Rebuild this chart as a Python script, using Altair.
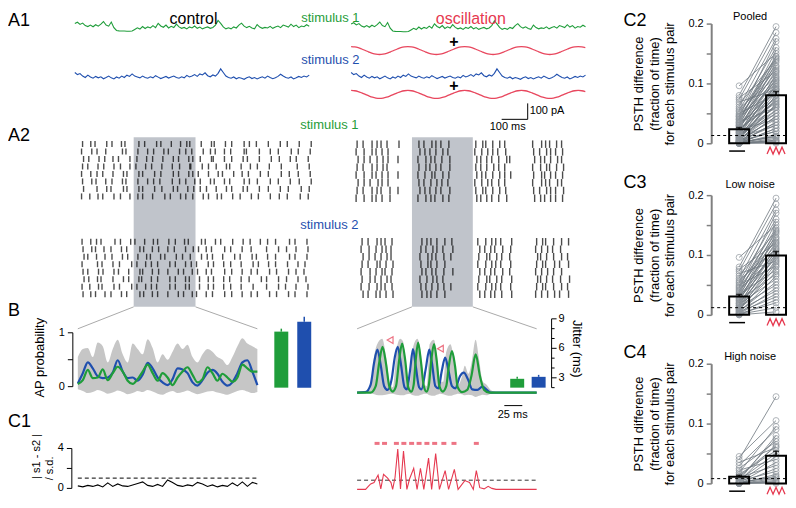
import altair as alt
import pandas as pd

FONT = "Liberation Sans"
GREEN = "#1f9d3a"
BLUE = "#1f4fae"
RED = "#e63950"
SINE = "#e8475e"
GREY_BAND = "#c0c4cb"
GREY_PSTH = "#c6c6c6"

# ---------------- A1: injected currents (pA above baseline, 10 ms steps) ----------------
STIM1 = [45, 52, 40, 47, 33, 28, 36, 27, 38, 30, 41, 56, 36, 30, 53, 22, 6, 4, 3, 3,
         2, 2, 3, 12, 21, 14, 28, 17, 26, 20, 33, 22, 46, 31, 24, 36, 20, 29, 22, 41,
         26, 18, 23, 15, 26, 20, 31, 18, 25, 15, 21, 26, 18, 23, 36, 62, 46, 26, 15, 21,
         15, 26, 20, 36, 47, 30, 22, 29, 20, 15, 39, 25, 18, 23, 20, 29, 18, 26, 31, 22,
         36, 31, 25, 41, 28, 36, 22, 31, 27, 38, 30]
STIM2 = [50, 38, 44, 30, 22, 35, 25, 18, 28, 20, 26, 15, 22, 30, 20, 14, 25, 18, 30, 22,
         35, 28, 42, 30, 25, 20, 30, 22, 18, 26, 20, 32, 24, 16, 22, 28, 19, 25, 30, 22,
         18, 26, 20, 34, 25, 30, 38, 28, 42, 36, 48, 32, 26, 36, 30, 45, 70, 50, 30, 22,
         18, 25, 15, 22, 18, 12, 20, 26, 16, 22, 14, 20, 26, 18, 30, 22, 15, 20, 28, 40,
         30, 22, 18, 25, 14, 20, 28, 22, 30, 25, 35]
STIM_DT = 10
OSC_CYCLE = [1.0, 0.92, 0.71, 0.38, 0.0, -0.38, -0.71, -0.92, -1.0, -0.92, -0.71, -0.38, 0.0, 0.38, 0.71, 0.92]
OSC_PERIOD = 218
SCALEBAR_T = [578, 678]
SCALEBAR_PA = [0, 100]

# ---------------- A2: rasters (column times in ms, per-trial jitter codes) ----------------
CTRL_S1_COLS = [3, 32, 61, 92, 125, 159, 185, 225, 256, 292, 325, 359, 392, 425, 445, 479, 512, 539,
                572, 605, 643, 672, 712, 752, 792, 832, 872, 912]
CTRL_S2_COLS = [5, 32, 59, 85, 125, 159, 192, 225, 252, 279, 312, 345, 379, 412, 439, 472, 499, 532,
                565, 605, 639, 679, 712, 745, 785, 825, 859, 899]
CTRL_S1_JIT = ["3415230425134203514253024135", "2534.41352403125423150342524",
               "4253305241352432503241353402", "3142425130243514235024135.13",
               "2431352403152430251432425324", "3524241352043152413053142435",
               "4.35152403251342035241324253", "2341425301524135240315243142"]
CTRL_S2_JIT = ["2431524035142305241352431524", "3524130524231452305143.24235",
               "4135241352403125413524031524", "2.42315243152430524135241352",
               "3153402514235241305243152431", "4241352403152413524031524253",
               "2352415243052413524135.24135", "3425130524135240315243152424"]
OSC_S1_COLS = [32, 60, 88, 112, 132, 160, 196, 280, 304, 328, 348, 372, 400,
               508, 532, 552, 576, 600, 628, 648, 740, 768, 788, 808, 832, 856, 872]
OSC_S2_COLS = [52, 80, 108, 128, 148, 172, 288, 312, 332, 352, 380, 412,
               520, 548, 568, 588, 612, 648, 752, 772, 792, 820, 848, 880]
OSC_S1_JIT = ["3243214 324323 342342. 243232.", "234232. 432342 234323. 324323.",
              "4323423 243234 4232342 432342.", "324341. 342324 323432. 234234.",
              "2342323 234243 4323423 342323.", "432432. 323432 234232. 243242.",
              "3243243 432324 342343. 324324.", "234234. 243243 423234. 432323."]
OSC_S2_JIT = ["324323 432343 234324 342343", "233432 324324 423243 23423.",
              "432342 243232 342432 423342", "324234 34234. 234323 342423",
              "243423 423234 423242 23434.", "342342 23432. 342434 423234",
              "234323 323432 234323 342342", "423234 43234. 423234 234423"]
CTRL_WINDOW = [208, 456]
OSC_WINDOW = [252, 496]

# ---------------- B: PSTHs (AP probability) and spike jitter ----------------
B_CTRL_GREEN = [0.05, 0.12, 0.31, 0.16, 0.17, 0.32, 0.12, 0.25, 0.37, 0.28, 0.11, 0.05, 0.14, 0.28, 0.41,
                0.25, 0.11, 0.25, 0.17, 0.03, 0.17, 0.28, 0.36, 0.22, 0.08, 0.14, 0.36, 0.25, 0.11, 0.24,
                0.17, 0.09, 0.17, 0.41, 0.34, 0.28, 0.28]
B_CTRL_BLUE = [0.06, 0.25, 0.45, 0.34, 0.19, 0.16, 0.17, 0.26, 0.49, 0.28, 0.16, 0.17, 0.11, 0.22, 0.44,
               0.34, 0.17, 0.08, 0.03, 0.14, 0.34, 0.32, 0.25, 0.08, 0.02, 0.12, 0.26, 0.31, 0.24, 0.09,
               0.02, 0.08, 0.25, 0.45, 0.49, 0.28, 0.03]
B_CTRL_HI = [0.55, 0.70, 0.72, 0.55, 0.82, 0.75, 0.45, 0.70, 0.87, 0.60, 0.45, 0.80, 0.70, 0.60, 0.88,
             0.72, 0.45, 0.60, 0.50, 0.65, 0.80, 0.70, 0.78, 0.55, 0.45, 0.60, 0.70, 0.65, 0.55, 0.50,
             0.40, 0.55, 0.75, 0.90, 0.80, 0.75, 0.70]
B_CTRL_LO = [-0.05, -0.08, -0.12, -0.10, -0.06, -0.09, -0.13, -0.11, -0.07, -0.10, -0.14, -0.12, -0.08,
             -0.10, -0.06, -0.09, -0.13, -0.15, -0.11, -0.08, -0.12, -0.10, -0.07, -0.11, -0.14, -0.12,
             -0.09, -0.08, -0.11, -0.13, -0.15, -0.12, -0.08, -0.06, -0.09, -0.12, -0.10]
B_WIN_MS = 250
OSC_GREEN_T = [0, 18.9, 25.9, 30.7, 35.4, 40.1, 44.8, 49.5, 54.2, 58.5, 62.7, 67.0, 71.2, 75.5, 78.8,
               81.6, 84.9, 88.7, 92.9, 96.7, 100.0, 103.3, 107.1, 110.8, 114.6, 119.3, 124.1, 127.8,
               132.1, 136.3, 140.1, 146.2, 153.3, 159.0, 165.1, 171.2, 176.9, 184.0, 250]
OSC_GREEN_V = [0, 0, 0.12, 0.55, 0.85, 0.55, 0.12, 0.02, 0.12, 0.6, 0.91, 0.6, 0.1, 0.02, 0.15, 0.6,
               0.93, 0.6, 0.12, 0.02, 0.15, 0.6, 0.9, 0.6, 0.12, 0.02, 0.12, 0.5, 0.77, 0.5, 0.1, 0.01,
               0.05, 0.3, 0.71, 0.3, 0.05, 0, 0]
OSC_BLUE_T = [0, 11.8, 18.9, 23.6, 28.3, 33.0, 37.7, 42.5, 48.1, 52.4, 56.6, 60.8, 66.0, 69.3, 73.6,
              77.8, 81.6, 86.3, 89.6, 95.7, 100.5, 104.2, 109.0, 113.2, 117.9, 122.6, 127.4, 132.1,
              136.8, 143.0, 148.6, 154.3, 160.4, 167.5, 174.5, 180.7, 186.3, 250]
OSC_BLUE_V = [0, 0.01, 0.15, 0.55, 0.8, 0.5, 0.12, 0.05, 0.25, 0.65, 0.85, 0.55, 0.1, 0.06, 0.4, 0.81,
              0.5, 0.1, 0.06, 0.45, 0.8, 0.55, 0.12, 0.08, 0.4, 0.65, 0.4, 0.12, 0.08, 0.3, 0.37, 0.25,
              0.06, 0.05, 0.11, 0.05, 0.0, 0]
OSC_GRAY_T = [0, 18, 24, 30, 35, 40, 46, 50, 55, 60, 64, 69, 73, 78, 84, 89, 94, 97, 101, 107, 111,
              116, 120, 124, 130, 135, 141, 146, 150, 155, 160, 165, 170, 175, 180, 186, 195, 250]
OSC_GRAY_LO = [0, 0, -0.03, -0.05, -0.05, -0.04, -0.02, -0.02, -0.04, -0.05, -0.05, -0.03, -0.02,
               -0.05, -0.06, -0.04, -0.02, -0.02, -0.05, -0.06, -0.04, -0.02, -0.03, -0.05, -0.06,
               -0.04, -0.02, -0.03, -0.05, -0.04, -0.05, -0.08, -0.06, -0.04, -0.05, -0.02, 0, 0]
OSC_GRAY_HI = [0.02, 0.05, 0.7, 0.95, 1.0, 0.7, 0.15, 0.1, 0.8, 1.0, 0.95, 0.3, 0.15, 0.85, 1.0, 0.7,
               0.15, 0.12, 0.9, 0.98, 0.7, 0.2, 0.2, 0.75, 0.9, 0.6, 0.15, 0.3, 0.5, 0.35, 0.6, 0.98,
               0.6, 0.2, 0.15, 0.05, 0.01, 0]
ARROW_T = [48, 118]
ARROW_V = [0.96, 0.8]
JIT_CTRL_MEAN = [7.7, 8.7]
JIT_CTRL_ERR = [0.3, 0.5]
JIT_OSC_MEAN = [2.9, 3.1]
JIT_OSC_ERR = [0.2, 0.2]
JIT_BASE = 2
BAR_COLORS = [GREEN, BLUE]
SCALEBAR_B = [205, 230]

# ---------------- C1: |s1 - s2| / s.d. ----------------
C1_CTRL = [0.25, 0.15, 0.3, 0.2, 0.35, 0.15, 0.55, 0.2, 0.45, 0.25, 0.2, 0.35, 0.5, 0.65, 0.3, 0.2,
           0.4, 0.2, 0.85, 0.6, 0.3, 0.2, 0.35, 0.25, 0.6, 0.45, 0.2, 0.35, 0.15, 0.3, 0.2, 0.55,
           0.25, 0.65, 0.2, 0.6, 0.45]
C1_OSC_T = [0, 11.8, 15.6, 18.9, 23.6, 29.2, 33.0, 36.8, 42.5, 47.2, 49.5, 52.8, 56.6, 60.4, 64.6,
            69.3, 73.1, 78.8, 83.5, 88.2, 92.9, 99.5, 103.8, 109.4, 114.6, 122.6, 127.4, 135.4, 140.6,
            143.9, 150.0, 156.6, 161.8, 166.0, 170.8, 176.9, 182.5, 187.7, 193.4, 250]
C1_OSC_V = [0, 0, 0.3, 0.54, 0.67, 1.4, 0.05, 1.48, 1.1, 0.67, 0.0, 1.16, 3.95, 0.05, 3.75, 0.0,
            1.04, 2.07, 0.0, 2.07, 0.0, 3.06, 0.0, 3.5, 0.0, 1.83, 0.0, 1.95, 0.0, 0.3, 0.86, 0.67,
            0.0, 1.83, 0.17, 0.05, 0.3, 0.1, 0.0, 0.0]
C1_SIG_T = [27.8, 38.2, 54.7, 65.1, 75.9, 86.3, 97.2, 108.0, 120.8, 134.9, 166.0]
C1_SIG_LEVEL = 4.5
C1_THR_CTRL = 1.03
C1_THR_OSC = 0.9

# ---------------- C2-C4: PSTH difference per stimulus pair ----------------
C3_CTRL = [0.096, 0.080, 0.076, 0.073, 0.069, 0.065, 0.061, 0.058, 0.055, 0.053, 0.050, 0.048,
           0.046, 0.044, 0.042, 0.040, 0.038, 0.036, 0.034, 0.033, 0.031, 0.030, 0.028, 0.027,
           0.025, 0.024, 0.022, 0.020, 0.019, 0.018, 0.016, 0.015, 0.013, 0.012, 0.011, 0.010,
           0.009, 0.008, 0.007, 0.006, 0.005, 0.004, 0.003, 0.002, 0.002, 0.001, 0.000, 0.000]
C3_OSC = [0.150, 0.195, 0.120, 0.185, 0.090, 0.140, 0.175, 0.110, 0.160, 0.130, 0.082, 0.145,
          0.125, 0.170, 0.100, 0.138, 0.118, 0.155, 0.075, 0.128, 0.105, 0.142, 0.095, 0.122,
          0.112, 0.068, 0.135, 0.088, 0.108, 0.060, 0.115, 0.098, 0.050, 0.102, 0.085, 0.072,
          0.092, 0.040, 0.080, 0.055, 0.030, 0.065, 0.045, 0.020, 0.035, 0.012, 0.025, 0.005]
C4_CTRL = [0.045, 0.040, 0.035, 0.030, 0.025, 0.022, 0.018, 0.015, 0.012, 0.010, 0.008, 0.006,
           0.005, 0.004, 0.003, 0.002, 0.002, 0.001, 0.001, 0.000, 0.000, 0.000, 0.000, 0.000,
           0.000, 0.000]
C4_OSC = [0.105, 0.145, 0.060, 0.090, 0.070, 0.040, 0.095, 0.055, 0.062, 0.030, 0.075, 0.050,
          0.080, 0.020, 0.065, 0.045, 0.010, 0.035, 0.012, 0.025, 0.008, 0.015, 0.003, 0.005,
          0.002, 0.000]
THRESH = {"C2": 0.013, "C3": 0.012, "C4": 0.008}
Y_TICKS_C = [0, 0.05, 0.1, 0.15, 0.2]
DASH_X = [-0.27, 0.16]
ZIG_X = [0.757, 0.838, 0.919, 1.0, 1.081, 1.162, 1.243]
ZIG_Y = [-0.018, -0.0065, -0.018, -0.0065, -0.018, -0.0065, -0.018]

# ======================= layout helpers =======================
OX, OY = 8, 8
ONE = pd.DataFrame({"k": [0]})


def XS(dom, a, b):
    return alt.Scale(domain=dom, range=[a - OX, b - OX], nice=False, zero=False, padding=0)


def YS(dom, r0, r1):
    return alt.Scale(domain=dom, range=[r0 - OY, r1 - OY], nice=False, zero=False, padding=0)


def txt(s, x, y, size=11, color="black", align="center", baseline="middle", angle=0, weight="normal"):
    return alt.Chart(ONE).mark_text(text=s, fontSize=size, color=color, align=align, baseline=baseline,
                                    angle=angle, fontWeight=weight, font=FONT).encode(
        x=alt.value(x - OX), y=alt.value(y - OY))


def line(t, v, xsc, ysc, color, width=1.1, interp="linear", dash=None):
    df = pd.DataFrame({"t": t, "v": v})
    kw = dict(color=color, strokeWidth=width, interpolate=interp)
    if dash:
        kw["strokeDash"] = dash
    return alt.Chart(df).mark_line(**kw).encode(
        x=alt.X("t:Q", scale=xsc, axis=None), y=alt.Y("v:Q", scale=ysc, axis=None))


L = []

# ---------- A1 ----------
t_stim = [i * STIM_DT for i in range(len(STIM1))]
XA_C = XS([0, 900], 75, 310)
XA_O = XS([0, 900], 352, 587)
L.append(line(t_stim, STIM1, XA_C, YS([0, 100], 31, 13), GREEN))
L.append(line(t_stim, STIM2, XA_C, YS([0, 100], 81, 63), BLUE))
L.append(line(t_stim, STIM1, XA_O, YS([0, 100], 31.5, 13.5), GREEN))
L.append(line(t_stim, STIM2, XA_O, YS([0, 100], 81, 63), BLUE))
sine_v = (OSC_CYCLE * 5)[:67]
sine_t = [i * OSC_PERIOD / len(OSC_CYCLE) for i in range(len(sine_v))]
L.append(line(sine_t, sine_v, XA_O, YS([-1, 1], 54, 46), SINE, 1.3, "monotone"))
L.append(line(sine_t, sine_v, XA_O, YS([-1, 1], 98, 90), SINE, 1.3, "monotone"))
sb = pd.DataFrame({"t0": [SCALEBAR_T[0], SCALEBAR_T[1]], "t1": [SCALEBAR_T[1], SCALEBAR_T[1]],
                   "p0": [SCALEBAR_PA[0], SCALEBAR_PA[0]], "p1": [SCALEBAR_PA[0], SCALEBAR_PA[1]]})
L.append(alt.Chart(sb).mark_rule(color="black", strokeWidth=1).encode(
    x=alt.X("t0:Q", scale=XA_O, axis=None), x2="t1:Q",
    y=alt.Y("p0:Q", scale=YS([0, 100], 119, 103), axis=None), y2="p1:Q"))

L += [txt("A1", 8, 11, 18, align="left", baseline="top"),
      txt("control", 194, 10, 16, baseline="top"),
      txt("oscillation", 472, 10, 16, color=RED, baseline="top"),
      txt("stimulus 1", 302, 11, 13, color=GREEN, align="left", baseline="top"),
      txt("stimulus 2", 302, 60, 13, color=BLUE, align="left"),
      txt("+", 455, 41, 16, weight="bold"),
      txt("+", 455, 86, 16, weight="bold"),
      txt("100 pA", 531, 111, 11, align="left"),
      txt("100 ms", 509, 127, 11)]

# ---------- A2 ----------
XR_C = XS([0, 920], 82, 312)
XR_O = XS([0, 920], 350, 580)
L.append(alt.Chart(pd.DataFrame({"a": [CTRL_WINDOW[0]], "b": [CTRL_WINDOW[1]]})).mark_rect(
    color=GREY_BAND).encode(x=alt.X("a:Q", scale=XR_C, axis=None), x2="b:Q",
                            y=alt.value(137 - OY), y2=alt.value(307 - OY)))
L.append(alt.Chart(pd.DataFrame({"a": [OSC_WINDOW[0]], "b": [OSC_WINDOW[1]]})).mark_rect(
    color=GREY_BAND).encode(x=alt.X("a:Q", scale=XR_O, axis=None), x2="b:Q",
                            y=alt.value(137 - OY), y2=alt.value(307 - OY)))


def raster(cols, jit, unit, xsc, ysc, size):
    rows = []
    for tr, s in enumerate(jit):
        s = s.replace(" ", "")
        for c, ch in zip(cols, s):
            if ch != ".":
                rows.append({"t": c + (int(ch) - 3) * unit, "trial": tr + 0.5})
    return alt.Chart(pd.DataFrame(rows)).mark_tick(orient="vertical", size=size, thickness=1.4,
                                                   color="black").encode(
        x=alt.X("t:Q", scale=xsc, axis=None), y=alt.Y("trial:Q", scale=ysc, axis=None))


L.append(raster(CTRL_S1_COLS, CTRL_S1_JIT, 4, XR_C, YS([0, 8], 140, 200), 6))
L.append(raster(CTRL_S2_COLS, CTRL_S2_JIT, 4, XR_C, YS([0, 8], 238, 298), 6))
L.append(raster(OSC_S1_COLS, OSC_S1_JIT, 4, XR_O, YS([0, 8], 140, 202), 7.5))
L.append(raster(OSC_S2_COLS, OSC_S2_JIT, 4, XR_O, YS([0, 8], 238, 298), 7.5))
L += [txt("A2", 8, 127, 18, align="left", baseline="top"),
      txt("stimulus 1", 301, 125, 13, color=GREEN, align="left"),
      txt("stimulus 2", 301, 225, 13, color=BLUE, align="left")]

# connectors from the grey window to the zoomed PSTH
for win, xsc, xb in [(CTRL_WINDOW[0], XR_C, 78), (CTRL_WINDOW[1], XR_C, 258),
                     (OSC_WINDOW[0], XR_O, 358), (OSC_WINDOW[1], XR_O, 538)]:
    L.append(alt.Chart(pd.DataFrame({"e": [win]})).mark_rule(color="#aaaaaa", strokeWidth=1).encode(
        x=alt.X("e:Q", scale=xsc, axis=None), x2=alt.value(xb - OX),
        y=alt.value(307 - OY), y2=alt.value(329 - OY)))

# ---------- B ----------
XB_C = XS([0, B_WIN_MS], 78, 258)
XB_O = XS([0, B_WIN_MS], 358, 538)
YB_C = YS([0, 1], 387, 333)
YB_O = YS([0, 1], 393, 339)
YJ = YS([2, 9], 388, 319)
tb = [i * B_WIN_MS / (len(B_CTRL_GREEN) - 1) for i in range(len(B_CTRL_GREEN))]
L.append(alt.Chart(pd.DataFrame({"t": tb, "lo": B_CTRL_LO, "hi": B_CTRL_HI})).mark_area(
    color=GREY_PSTH, interpolate="monotone").encode(
    x=alt.X("t:Q", scale=XB_C, axis=None), y=alt.Y("lo:Q", scale=YB_C, axis=None), y2="hi:Q"))
L.append(line(tb, B_CTRL_BLUE, XB_C, YB_C, BLUE, 2.2, "monotone"))
L.append(line(tb, B_CTRL_GREEN, XB_C, YB_C, GREEN, 2.2, "monotone"))
L.append(alt.Chart(pd.DataFrame({"t": OSC_GRAY_T, "lo": OSC_GRAY_LO, "hi": OSC_GRAY_HI})).mark_area(
    color=GREY_PSTH, interpolate="monotone").encode(
    x=alt.X("t:Q", scale=XB_O, axis=None), y=alt.Y("lo:Q", scale=YB_O, axis=None), y2="hi:Q"))
L.append(line(OSC_BLUE_T, OSC_BLUE_V, XB_O, YB_O, BLUE, 2.2, "monotone"))
L.append(line(OSC_GREEN_T, OSC_GREEN_V, XB_O, YB_O, GREEN, 2.2, "monotone"))
L.append(alt.Chart(pd.DataFrame({"t": ARROW_T, "v": ARROW_V})).mark_point(
    shape="triangle-down", filled=False, color=RED, size=45, angle=330, strokeWidth=1.2).encode(
    x=alt.X("t:Q", scale=XB_O, axis=None), y=alt.Y("v:Q", scale=YB_O, axis=None)))


def jitter_bars(means, errs, xa, xb):
    df = pd.DataFrame({"i": [0, 1], "m": means, "hi": [m + e for m, e in zip(means, errs)],
                       "base": [JIT_BASE, JIT_BASE], "c": BAR_COLORS})
    xsc = XS([0, 1], xa, xb)
    bars = alt.Chart(df).mark_bar(size=14).encode(
        x=alt.X("i:Q", scale=xsc, axis=None), y=alt.Y("m:Q", scale=YJ, axis=None), y2="base:Q",
        color=alt.Color("c:N", scale=None))
    err = alt.Chart(df).mark_rule(strokeWidth=1.5).encode(
        x=alt.X("i:Q", scale=xsc, axis=None), y=alt.Y("m:Q", scale=YJ, axis=None), y2="hi:Q",
        color=alt.Color("c:N", scale=None))
    return [bars, err]


L += jitter_bars(JIT_CTRL_MEAN, JIT_CTRL_ERR, 282, 305)
L += jitter_bars(JIT_OSC_MEAN, JIT_OSC_ERR, 518.5, 540)


def vaxis(ticks, labels, ysc, xline, ticklen, label_x, align, lo, hi, minor=None, minor_len=None):
    out = [alt.Chart(pd.DataFrame({"a": [lo], "b": [hi]})).mark_rule(color="black", strokeWidth=1).encode(
        x=alt.value(xline - OX), y=alt.Y("a:Q", scale=ysc, axis=None), y2="b:Q")]
    out.append(alt.Chart(pd.DataFrame({"v": ticks})).mark_rule(color="black", strokeWidth=1).encode(
        x=alt.value(xline - OX), x2=alt.value(xline + ticklen - OX), y=alt.Y("v:Q", scale=ysc, axis=None)))
    if minor:
        out.append(alt.Chart(pd.DataFrame({"v": minor})).mark_rule(color="black", strokeWidth=1).encode(
            x=alt.value(xline - OX), x2=alt.value(xline + minor_len - OX),
            y=alt.Y("v:Q", scale=ysc, axis=None)))
    out.append(alt.Chart(pd.DataFrame({"v": ticks, "s": labels})).mark_text(
        fontSize=11, align=align, baseline="middle", font=FONT).encode(
        x=alt.value(label_x - OX), y=alt.Y("v:Q", scale=ysc, axis=None), text="s:N"))
    return out


L += vaxis([0, 0.5, 1], ["0", "", "1"], YB_C, 73, -5, 65, "right", 0, 1)
L += vaxis([3, 6, 9], ["3", "6", "9"], YJ, 553, 5, 560, "left", 2, 9, [2, 4, 5, 7, 8], 3)
L += [txt("B", 8, 302, 18, align="left", baseline="top"),
      txt("AP probability", 40, 358, 13, angle=270),
      txt("Jitter (ms)", 578, 349, 13, angle=90)]
L.append(alt.Chart(pd.DataFrame({"a": [SCALEBAR_B[0]], "b": [SCALEBAR_B[1]]})).mark_rule(
    color="black", strokeWidth=1).encode(x=alt.X("a:Q", scale=XB_O, axis=None), x2="b:Q",
                                         y=alt.value(406 - OY)))
L.append(txt("25 ms", 514, 415, 11))

# ---------- C1 ----------
YC_C = YS([0, 4], 489, 449)
YC_O = YS([0, 4], 490, 449)
tc = [i * B_WIN_MS / (len(C1_CTRL) - 1) for i in range(len(C1_CTRL))]
L.append(line([0, B_WIN_MS], [C1_THR_CTRL, C1_THR_CTRL], XB_C, YC_C, "black", 1, dash=[4, 3]))
L.append(line(tc, C1_CTRL, XB_C, YC_C, "black", 1.1))
L.append(line([0, B_WIN_MS], [C1_THR_OSC, C1_THR_OSC], XB_O, YC_O, "#333333", 1, dash=[4, 3]))
L.append(line(C1_OSC_T, C1_OSC_V, XB_O, YC_O, RED, 1.1))
L.append(alt.Chart(pd.DataFrame({"t": C1_SIG_T, "v": [C1_SIG_LEVEL] * len(C1_SIG_T)})).mark_tick(
    orient="horizontal", size=5, thickness=3, color=RED).encode(
    x=alt.X("t:Q", scale=XB_O, axis=None), y=alt.Y("v:Q", scale=YC_O, axis=None)))
L += vaxis([0, 2, 4], ["0", "", "4"], YC_C, 72, -5, 64, "right", 0, 4)
L += [txt("C1", 8, 413, 18, align="left", baseline="top"),
      txt("| s1 - s2 |", 37, 457, 11, angle=270),
      txt("/ s.d.", 50, 469, 11, angle=270)]

left = alt.layer(*L).resolve_scale(x="independent", y="independent").properties(width=600, height=484)


# ---------- C2 - C4 ----------
PW = 75  # plot width of the right-hand panels


def rtxt(s, x, y, size, align="left", baseline="top", color="black"):
    return alt.Chart(ONE).mark_text(text=s, fontSize=size, align=align, baseline=baseline, color=color,
                                    font=FONT).encode(x=alt.value(x), y=alt.value(y))


def cpanel(ctrl, osc, name, sub, top, bottom, height, name_dy, sub_dy, sub_base):
    n = len(ctrl)
    df = pd.DataFrame({"pair": list(range(n)) * 2, "cond": [0] * n + [1] * n, "v": list(ctrl) + list(osc)})
    xsc = alt.Scale(domain=[-0.757, 1.27], nice=False, zero=False, padding=0)
    ysc = alt.Scale(domain=[0, 0.2], range=[bottom, top], nice=False, padding=0)
    yax = alt.Axis(values=Y_TICKS_C, format="~g",
                   labelExpr="(datum.value == 0.05 || datum.value == 0.15) ? '' : datum.label",
                   title=["PSTH difference", "(fraction of time)", "for each stimulus pair"],
                   titleFontSize=13, titleFontWeight="normal", titleColor="black", titlePadding=11,
                   titleLineHeight=16, labelFontSize=11, labelColor="black", labelPadding=3,
                   domainColor="#808080", domainWidth=2, tickColor="#808080", tickWidth=1.5,
                   tickSize=5, grid=False)
    X = alt.X("cond:Q", scale=xsc, axis=None)
    base = alt.Chart(df)
    lines = base.mark_line(color="#6f777f", strokeWidth=0.8).encode(
        X, alt.Y("v:Q", scale=ysc, axis=yax), detail="pair:N")
    pts = base.mark_point(shape="circle", filled=False, color="#8f969d", size=36, strokeWidth=1).encode(
        X, alt.Y("v:Q", scale=ysc, axis=yax))
    bars = base.mark_bar(size=20, color="black", fillOpacity=0, stroke="black", strokeWidth=2).encode(
        X, alt.Y("mean(v):Q", scale=ysc, axis=yax))
    agg = base.transform_aggregate(m="mean(v)", s="stderr(v)", groupby=["cond"]).transform_calculate(
        h="datum.m + datum.s")
    err = agg.mark_rule(color="black", strokeWidth=1.5).encode(
        X, alt.Y("m:Q", scale=ysc, axis=yax), y2="h:Q")
    cap = agg.mark_tick(orient="horizontal", size=6, thickness=1.5, color="black").encode(
        X, alt.Y("h:Q", scale=ysc, axis=yax))
    thr = alt.Chart(pd.DataFrame({"y": [THRESH[name]]})).mark_rule(
        color="black", strokeDash=[3, 3], strokeWidth=1).encode(y=alt.Y("y:Q", scale=ysc, axis=yax))
    dash = alt.Chart(pd.DataFrame({"a": [DASH_X[0]], "b": [DASH_X[1]], "y": [-0.013]})).mark_rule(
        color="black", strokeWidth=1.5).encode(
        x=alt.X("a:Q", scale=xsc, axis=None), x2="b:Q", y=alt.Y("y:Q", scale=ysc, axis=yax))
    zig = alt.Chart(pd.DataFrame({"x": ZIG_X, "y": ZIG_Y})).mark_line(color=RED, strokeWidth=1.3).encode(
        x=alt.X("x:Q", scale=xsc, axis=None), y=alt.Y("y:Q", scale=ysc, axis=yax))
    labels = [rtxt(name, -88, name_dy, 18), rtxt(sub, 39, sub_dy, 11, align="center", baseline=sub_base)]
    return alt.layer(lines, pts, bars, err, cap, thr, dash, zig, *labels).properties(width=PW, height=height)


# panel origins in the picture: 8, 180, 352 (px); plot tops 23, 195, 364
c2 = cpanel(C3_CTRL + C4_CTRL, C3_OSC + C4_OSC, "C2", "Pooled", 15, 135, 172, 3, 2, "top")
c3 = cpanel(C3_CTRL, C3_OSC, "C3", "Low noise", 15, 135, 172, -6, 5, "middle")
c4 = cpanel(C4_CTRL, C4_OSC, "C4", "High noise", 12, 132, 142, -8, 5, "middle")
right = alt.vconcat(c2, c3, c4, spacing=0, bounds="flush")

chart = alt.hconcat(left, right, spacing=105, bounds="flush").properties(padding=0).configure(
    font=FONT).configure_view(stroke=None)

chart.save("out.html", embed_options={"renderer": "svg", "actions": False})
